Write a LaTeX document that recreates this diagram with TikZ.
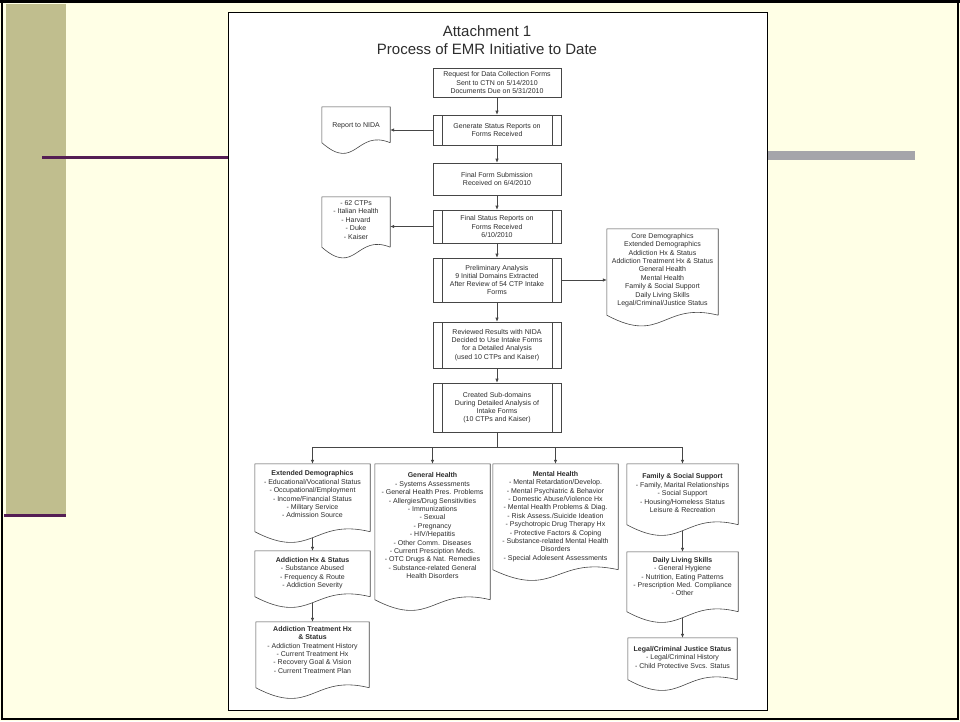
\documentclass[tikz,border=0pt]{standalone}
\usepackage{fontspec}
\setmainfont{Liberation Sans}
\usetikzlibrary{arrows.meta,calc}
\definecolor{slidebg}{RGB}{255,255,230}
\definecolor{olivebar}{RGB}{192,190,142}
\definecolor{plum}{RGB}{84,30,84}
\definecolor{graybar}{RGB}{165,165,170}
\definecolor{lineg}{RGB}{70,70,70}
\definecolor{txt}{RGB}{45,45,45}
\tikzset{
  boxline/.style={draw=lineg, line width=0.6pt},
  procbox/.style={boxline, rectangle, minimum width=128pt, inner sep=0pt, align=center,
    font=\fontsize{7}{8.2}\selectfont, text=txt},
  predef/.style={procbox, path picture={
    \draw[boxline] ([xshift=9pt]path picture bounding box.north west) -- ([xshift=9pt]path picture bounding box.south west);
    \draw[boxline] ([xshift=-9pt]path picture bounding box.north east) -- ([xshift=-9pt]path picture bounding box.south east);}},
  docframe/.style={rectangle, inner sep=0pt},
  doctext/.style={anchor=north, inner sep=0pt, align=center, font=\fontsize{7}{8.4}\selectfont, text=txt},
  arr/.style={draw=lineg, line width=0.6pt, -{Latex[length=4pt,width=3.4pt]}},
  conn/.style={draw=lineg, line width=0.6pt},
  titletext/.style={anchor=base, inner sep=0pt, font=\fontsize{15}{18}\selectfont, text=txt},
}
\newcommand\docoutline[1]{\draw[boxline] (#1.south east) -- (#1.north east) -- (#1.north west) -- (#1.south west)
  .. controls ($(#1.south)+(0,30)$) and ($(#1.south)+(0,-14)$) .. (#1.south east);}
\begin{document}
\begin{tikzpicture}[x=1pt,y=-1pt]
\useasboundingbox (0,0) rectangle (960,721);
% slide
\fill[slidebg] (0,0) rectangle (960,721);
\fill[olivebar] (6,4) rectangle (66,515);
\draw[plum, line width=3pt] (42,157) -- (230,157);
\fill[graybar] (765,151) rectangle (915,160);
\draw[plum, line width=3pt] (4,515) -- (66,515);
\draw[black, line width=2pt] (2,2) rectangle (958,719);
\draw[black, line width=3pt] (0,1.5) -- (960,1.5);
% page
\draw[fill=white, draw=black, line width=0.8pt] (228,12) rectangle (767,710);
% title
\node[titletext] (t1) at (487,36) {Attachment 1};
\node[titletext] (t2) at (487,54) {Process of EMR Initiative to Date};
% main column
\node[procbox, minimum height=29pt] (b1) at (497,82.5) {Request for Data Collection Forms\\Sent to CTN on 5/14/2010\\Documents Due on 5/31/2010};
\node[predef, minimum height=30pt] (b2) at (497,130) {Generate Status Reports on\\Forms Received};
\node[procbox, minimum height=32pt] (b3) at (497,179) {Final Form Submission\\Received on 6/4/2010};
\node[predef, minimum height=33pt] (b4) at (497,226.5) {Final Status Reports on\\Forms Received\\6/10/2010};
\node[predef, minimum height=44pt] (b5) at (497,280) {Preliminary Analysis\\9 Initial Domains Extracted\\After Review of 54 CTP Intake\\Forms};
\node[predef, minimum height=46pt] (b6) at (497,345) {Reviewed Results with NIDA\\Decided to Use Intake Forms\\for a Detailed Analysis\\(used 10 CTPs and Kaiser)};
\node[predef, minimum height=49pt] (b7) at (497,407.5) {Created Sub-domains\\During Detailed Analysis of\\Intake Forms\\(10 CTPs and Kaiser)};
% side documents
\node[docframe, minimum width=68pt, minimum height=35.5pt] (d1) at (356,124.75) {};
\node[doctext] (d1t) at ($(d1.north)+(0,15.3)$) {Report to NIDA};
\node[docframe, minimum width=68pt, minimum height=50pt] (d2) at (356,222) {};
\node[doctext] (d2t) at ($(d2.north)+(0,3.6)$) {- 62 CTPs\\- Italian Health\\- Harvard\\- Duke\\- Kaiser};
\node[docframe, minimum width=111pt, minimum height=86pt] (d3) at (662.5,272) {};
\node[doctext] (d3t) at ($(d3.north)+(0,4.3)$) {Core Demographics\\Extended Demographics\\Addiction Hx \& Status\\Addiction Treatment Hx \& Status\\General Health\\Mental Health\\Family \& Social Support\\Daily Living Skills\\Legal/Criminal/Justice Status};
% bottom documents
\node[docframe, minimum width=115pt, minimum height=67.5pt] (e1) at (312.5,497.75) {};
\node[doctext] (e1t) at ($(e1.north)+(0,6.9)$) {\textbf{Extended Demographics}\\- Educational/Vocational Status\\- Occupational/Employment\\- Income/Financial Status\\- Military Service\\- Admission Source};
\node[docframe, minimum width=115pt, minimum height=45.5pt] (e2) at (312.5,573.75) {};
\node[doctext] (e2t) at ($(e2.north)+(0,6.3)$) {\textbf{Addiction Hx \& Status}\\- Substance Abused\\- Frequency \& Route\\- Addiction Severity};
\node[docframe, minimum width=113pt, minimum height=65.5pt] (e3) at (312.5,654.75) {};
\node[doctext] (e3t) at ($(e3.north)+(0,4.3)$) {\textbf{Addiction Treatment Hx}\\\textbf{\& Status}\\- Addiction Treatment History\\- Current Treatment Hx\\- Recovery Goal \& Vision\\- Current Treatment Plan};
\node[docframe, minimum width=115pt, minimum height=135.5pt] (g) at (432.5,531.75) {};
\node[doctext] (gt) at ($(g.north)+(0,8.9)$) {\textbf{General Health}\\- Systems Assessments\\- General Health Pres. Problems\\- Allergies/Drug Sensitivities\\- Immunizations\\- Sexual\\- Pregnancy\\- HIV/Hepatitis\\- Other Comm. Diseases\\- Current Presciption Meds.\\- OTC Drugs \& Nat. Remedies\\- Substance-related General\\Health Disorders};
\node[docframe, minimum width=125pt, minimum height=105.5pt] (m) at (555.5,516.75) {};
\node[doctext] (mt) at ($(m.north)+(0,7.3)$) {\textbf{Mental Health}\\- Mental Retardation/Develop.\\- Mental Psychiatric \& Behavior\\- Domestic Abuse/Violence Hx\\- Mental Health Problems \& Diag.\\- Risk Assess./Suicide Ideation\\- Psychotropic Drug Therapy Hx\\- Protective Factors \& Coping\\- Substance-related Mental Health\\Disorders\\- Special Adolesent Assessments};
\node[docframe, minimum width=111pt, minimum height=60.5pt] (f) at (682.5,494.25) {};
\node[doctext] (ft) at ($(f.north)+(0,9.9)$) {\textbf{Family \& Social Support}\\- Family, Marital Relationships\\- Social Support\\- Housing/Homeless Status\\Leisure \& Recreation};
\node[docframe, minimum width=111pt, minimum height=59.5pt] (dl) at (682.5,581.75) {};
\node[doctext] (dlt) at ($(dl.north)+(0,5.3)$) {\textbf{Daily Living Skills}\\- General Hygiene\\- Nutrition, Eating Patterns\\- Prescription Med. Compliance\\- Other};
\node[docframe, minimum width=109pt, minimum height=41.5pt] (l) at (682.5,658.75) {};
\node[doctext] (lt) at ($(l.north)+(0,8.3)$) {\textbf{Legal/Criminal Justice Status}\\- Legal/Criminal History\\- Child Protective Svcs. Status};
\foreach \n in {d1,d2,d3,e1,e2,e3,g,m,f,dl,l} {\docoutline{\n}}
% connectors
\draw[arr] (b1.south) -- (b2.north);
\draw[arr] (b2.south) -- (b3.north);
\draw[arr] (b3.south) -- (b4.north);
\draw[arr] (b4.south) -- (b5.north);
\draw[arr] (b5.south) -- (b6.north);
\draw[arr] (b6.south) -- (b7.north);
\draw[arr] (b2.west) -- (b2.west -| d1.east);
\draw[arr] (b4.west) -- (b4.west -| d2.east);
\draw[arr] (b5.east) -- (b5.east -| d3.west);
\coordinate (bus) at (497,447);
\draw[conn] (b7.south) -- (bus);
\draw[conn] (e1.north |- bus) -- (f.north |- bus);
\draw[arr] (e1.north |- bus) -- (e1.north);
\draw[arr] (g.north |- bus) -- (g.north);
\draw[arr] (m.north |- bus) -- (m.north);
\draw[arr] (f.north |- bus) -- (f.north);
\draw[arr] ($(e1.south)+(0,6)$) -- (e2.north);
\draw[arr] ($(e2.south)+(0,6)$) -- (e3.north);
\draw[arr] ($(f.south)+(0,6)$) -- (dl.north);
\draw[arr] ($(dl.south)+(0,6)$) -- (l.north);
\end{tikzpicture}
\end{document}
